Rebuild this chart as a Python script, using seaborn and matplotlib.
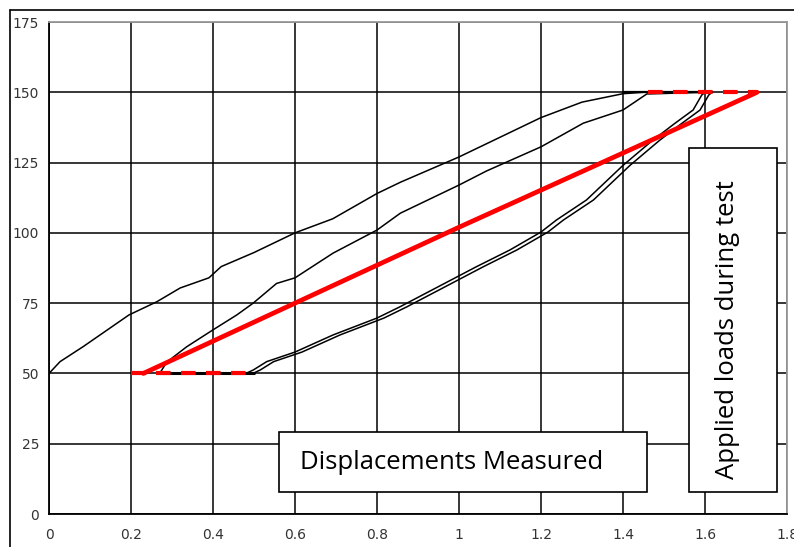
import pandas as pd
import seaborn as sns
import matplotlib.pyplot as plt
from matplotlib.patches import Rectangle
from matplotlib.lines import Line2D

# first loading branch
load1_x = [0.0, 0.027, 0.083, 0.195, 0.263, 0.32, 0.39, 0.42, 0.5, 0.6, 0.692, 0.8, 0.857, 1.0, 1.1, 1.2, 1.3, 1.4, 1.45, 1.6]
load1_y = [50, 54.2, 59.5, 70.8, 75.5, 80.4, 84, 88, 93, 100, 105, 114, 118, 127, 134, 141, 146.5, 149.5, 150, 150]

# second loading branch
load2_x = [0.27, 0.287, 0.336, 0.40, 0.458, 0.498, 0.555, 0.6, 0.693, 0.8, 0.857, 1.0, 1.067, 1.2, 1.303, 1.4, 1.458, 1.6]
load2_y = [50, 54, 59.5, 65.5, 70.8, 75, 82, 84, 92.8, 101, 107, 117, 122, 130.6, 139, 143.7, 149.4, 150]

# unloading branch (double line)
unload_x = [1.6, 1.592, 1.571, 1.527, 1.473, 1.4, 1.311, 1.238, 1.2, 1.124, 1.043, 0.856, 0.8, 0.693, 0.6, 0.531, 0.498, 0.48]
unload_y = [150, 149, 143.7, 139, 133, 124, 111.7, 104.6, 100.3, 93.9, 88, 73.7, 69.7, 63.7, 57.6, 54.2, 51.2, 50]
unload_shift = 0.017

# red design line
red_x = [0.23, 0.6, 1.0, 1.4, 1.727]
red_y = [50, 75, 102, 128.4, 150]
red_top_x = [1.46, 1.727]
red_bot_x = [0.2, 0.48]

x_ticks = [0, 0.2, 0.4, 0.6, 0.8, 1, 1.2, 1.4, 1.6, 1.8]
x_labels = ["0", "0.2", "0.4", "0.6", "0.8", "1", "1.2", "1.4", "1.6", "1.8"]
y_ticks = [0, 25, 50, 75, 100, 125, 150, 175]

sns.set_style("white")

fig = plt.figure(figsize=(7.94, 5.47), dpi=100)
ax = fig.add_axes([49 / 794, 1 - 514 / 547, 738 / 794, 492 / 547])

# black curves
sns.lineplot(x=load1_x, y=load1_y, sort=False, estimator=None, color="black", lw=1.1, ax=ax, zorder=3)
sns.lineplot(x=load2_x, y=load2_y, sort=False, estimator=None, color="black", lw=1.1, ax=ax, zorder=3)
sns.lineplot(x=unload_x, y=unload_y, sort=False, estimator=None, color="black", lw=1.1, ax=ax, zorder=3)
sns.lineplot(x=[v + unload_shift for v in unload_x], y=unload_y, sort=False, estimator=None,
             color="black", lw=1.1, ax=ax, zorder=3)
# flat black parts
ax.plot([0.27, 0.5], [50, 50], color="black", lw=2.2, zorder=3)
ax.plot([1.4, 1.617], [150, 150], color="black", lw=1.6, zorder=3)

# red line
sns.lineplot(x=red_x, y=red_y, sort=False, estimator=None, color="red", lw=3.4, ax=ax, zorder=4)
ax.plot(red_top_x, [150, 150], color="red", lw=3, ls=(0, (3.5, 2.5)), zorder=4)
ax.plot(red_bot_x, [50, 50], color="red", lw=3, ls=(0, (3.5, 2.5)), zorder=4)

ax.set_xlim(0, 1.8)
ax.set_ylim(0, 175)
ax.set_xticks(x_ticks)
ax.set_xticklabels(x_labels)
ax.set_yticks(y_ticks)
ax.grid(True, color="black", lw=1.1)
ax.set_axisbelow(True)
ax.tick_params(axis="both", direction="out", length=4, width=1.1, color="black",
               labelsize=10, labelcolor="#333333")
ax.tick_params(axis="x", pad=6)
ax.tick_params(axis="y", pad=3)
for side in ["left", "bottom"]:
    ax.spines[side].set_color("black")
    ax.spines[side].set_linewidth(1.3)
for side in ["top", "right"]:
    ax.spines[side].set_color("#9a9a9a")
    ax.spines[side].set_linewidth(1.3)

# text boxes
ax.add_patch(Rectangle((0.561, 7.8), 0.898, 21.4, facecolor="white", edgecolor="black", lw=1.2, zorder=5))
ax.text(0.612, 18.3, "Displacements Measured", family="Open Sans", fontsize=18.5, color="black",
        va="center", ha="left", zorder=6)
ax.add_patch(Rectangle((1.561, 7.8), 0.215, 122.4, facecolor="white", edgecolor="black", lw=1.2, zorder=5))
ax.text(1.656, 65.5, "Applied loads during test", family="Open Sans", fontsize=18.5, color="black",
        rotation=90, va="center", ha="center", zorder=6)

# outer frame
fig.add_artist(Line2D([10 / 794, 1], [1 - 10 / 547, 1 - 10 / 547], color="black", lw=1.2, transform=fig.transFigure))
fig.add_artist(Line2D([10 / 794, 10 / 794], [0, 1 - 10 / 547], color="black", lw=1.2, transform=fig.transFigure))

fig.savefig("out.png", dpi=100)
